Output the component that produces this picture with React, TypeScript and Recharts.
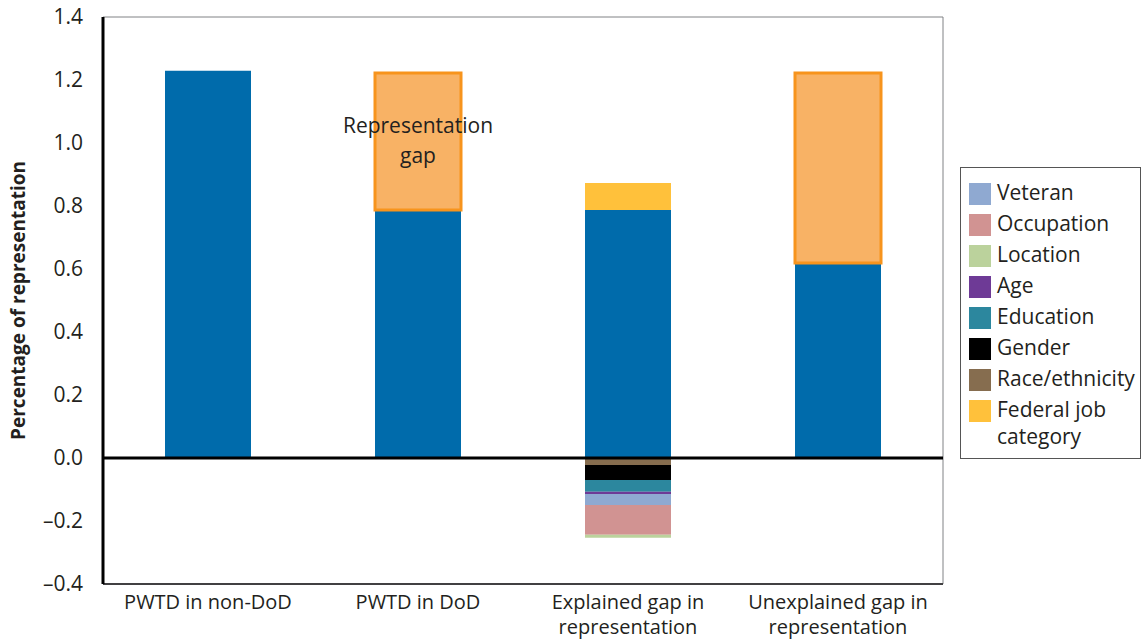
import React from "react";
import {
  Bar,
  BarChart,
  LabelList,
  ReferenceArea,
  ReferenceLine,
  XAxis,
  YAxis,
} from "recharts";

const categories = [
  "PWTD in non-DoD",
  "PWTD in DoD",
  "Explained gap in\nrepresentation",
  "Unexplained gap in\nrepresentation",
];

// positive stack
const pwtdValues = [1.229, 0.787, 0.787, 0.619];
const gapValues = [0, 0.435, 0, 0.603];
const federalJobValues = [0, 0, 0.086, 0];

// negative stack (explained gap only), from zero downward
const raceValues = [0, 0, -0.022, 0];
const genderValues = [0, 0, -0.048, 0];
const educationValues = [0, 0, -0.037, 0];
const ageValues = [0, 0, -0.007, 0];
const veteranValues = [0, 0, -0.035, 0];
const occupationValues = [0, 0, -0.095, 0];
const locationValues = [0, 0, -0.009, 0];

const yTicks = [-0.4, -0.2, 0, 0.2, 0.4, 0.6, 0.8, 1.0, 1.2, 1.4];
// annotation drawn on the orange segment of the second bar only
const gapNotes = ["", "Representation\ngap", "", ""];

const legendItems = [
  { label: "Veteran", color: "#8FA9D1" },
  { label: "Occupation", color: "#D19392" },
  { label: "Location", color: "#BBD29C" },
  { label: "Age", color: "#6E3A96" },
  { label: "Education", color: "#2C879E" },
  { label: "Gender", color: "#000000" },
  { label: "Race/ethnicity", color: "#866D4F" },
  { label: "Federal job\ncategory", color: "#FFC13B" },
];

const data = categories.map((name, i) => ({
  name,
  pwtd: pwtdValues[i],
  gap: gapValues[i],
  note: gapNotes[i],
  federal: federalJobValues[i],
  race: raceValues[i],
  gender: genderValues[i],
  education: educationValues[i],
  age: ageValues[i],
  veteran: veteranValues[i],
  occupation: occupationValues[i],
  location: locationValues[i],
}));

const FONT = "'Open Sans', sans-serif";
const TEXT = "#231F20";
const BLUE = "#006BAB";
const colorOf = (label: string) =>
  legendItems.find((d) => d.label.startsWith(label))!.color;

function CategoryTick({ x, y, payload }: any) {
  const lines = String(payload.value).split("\n");
  return (
    <text x={x} y={y + 17} textAnchor="middle" fontFamily={FONT} fontSize={20} fill={TEXT}>
      {lines.map((l, i) => (
        <tspan key={i} x={x} dy={i === 0 ? 0 : 25}>
          {l}
        </tspan>
      ))}
    </text>
  );
}

function GapLabel(props: any) {
  const { x, y, width, value } = props;
  if (!value) return null;
  const cx = x + width / 2;
  return (
    <text x={cx} y={y + 60} textAnchor="middle" fontFamily={FONT} fontSize={21} fill={TEXT}>
      {String(value)
        .split("\n")
        .map((l, i) => (
          <tspan key={i} x={cx} dy={i === 0 ? 0 : 30}>
            {l}
          </tspan>
        ))}
    </text>
  );
}

function SideLegend() {
  return (
    <div
      style={{
        position: "absolute",
        left: 960,
        top: 167,
        width: 181,
        height: 292,
        boxSizing: "border-box",
        border: "1px solid #555",
        padding: "11px 0 0 8px",
        fontFamily: FONT,
        fontSize: 21,
        color: TEXT,
        background: "#fff",
      }}
    >
      {legendItems.map((d) => (
        <div key={d.label} style={{ display: "flex", alignItems: "flex-start", height: 31 }}>
          <span
            style={{
              width: 22,
              height: 22,
              background: d.color,
              marginTop: 4,
              marginRight: 6,
              flex: "none",
            }}
          />
          <span style={{ whiteSpace: "pre", lineHeight: "27px" }}>{d.label}</span>
        </div>
      ))}
    </div>
  );
}

export default function App() {
  return (
    <div style={{ position: "absolute", left: 0, top: 0, width: 1145, height: 643, background: "#fff" }}>
      <BarChart
        width={1145}
        height={643}
        data={data}
        stackOffset="sign"
        barSize={86}
        margin={{ top: 17, right: 202, left: 0, bottom: 0 }}
      >
        <ReferenceArea y1={-0.4} y2={1.4} fill="none" stroke="#808285" strokeWidth={1} />
        <XAxis
          xAxisId="bounds"
          type="number"
          domain={[0, 4]}
          allowDataOverflow
          ticks={[1, 2, 3]}
          mirror
          tick={false}
          tickSize={13}
          tickLine={{ stroke: "#555" }}
          axisLine={false}
          height={0}
        />
        <XAxis
          dataKey="name"
          height={59}
          interval={0}
          tick={<CategoryTick />}
          tickLine={false}
          axisLine={{ stroke: "#414042", strokeWidth: 2 }}
        />
        <YAxis
          yAxisId="inner"
          type="number"
          domain={[-0.4, 1.4]}
          allowDataOverflow
          ticks={yTicks}
          mirror
          tick={false}
          tickSize={5}
          tickLine={{ stroke: "#555" }}
          axisLine={false}
          width={0}
        />
        <YAxis
          type="number"
          domain={[-0.4, 1.4]}
          ticks={yTicks}
          width={103}
          tickLine={false}
          tickMargin={14}
          axisLine={{ stroke: "#000", strokeWidth: 3 }}
          tickFormatter={(v: number) => (v < 0 ? "\u2013" + Math.abs(v).toFixed(1) : v.toFixed(1))}
          tick={{ fontFamily: FONT, fontSize: 21, fill: TEXT }}
          label={{
            value: "Percentage of representation",
            angle: -90,
            position: "center",
            dx: -33,
            fontFamily: FONT,
            fontSize: 19,
            fontWeight: 700,
            fill: TEXT,
          }}
        />
        <Bar dataKey="pwtd" stackId="a" fill={BLUE} isAnimationActive={false} />
        <Bar dataKey="gap" stackId="a" fill="#F8B265" stroke="#F7941D" strokeWidth={3} isAnimationActive={false}>
          <LabelList dataKey="note" content={<GapLabel />} />
        </Bar>
        <Bar dataKey="federal" stackId="a" fill={colorOf("Federal")} isAnimationActive={false} />
        <Bar dataKey="race" stackId="a" fill={colorOf("Race")} isAnimationActive={false} />
        <Bar dataKey="gender" stackId="a" fill={colorOf("Gender")} isAnimationActive={false} />
        <Bar dataKey="education" stackId="a" fill={colorOf("Education")} isAnimationActive={false} />
        <Bar dataKey="age" stackId="a" fill={colorOf("Age")} isAnimationActive={false} />
        <Bar dataKey="veteran" stackId="a" fill={colorOf("Veteran")} isAnimationActive={false} />
        <Bar dataKey="occupation" stackId="a" fill={colorOf("Occupation")} isAnimationActive={false} />
        <Bar dataKey="location" stackId="a" fill={colorOf("Location")} isAnimationActive={false} />
        <ReferenceLine y={0} stroke="#000" strokeWidth={3} />
      </BarChart>
      <SideLegend />
    </div>
  );
}
